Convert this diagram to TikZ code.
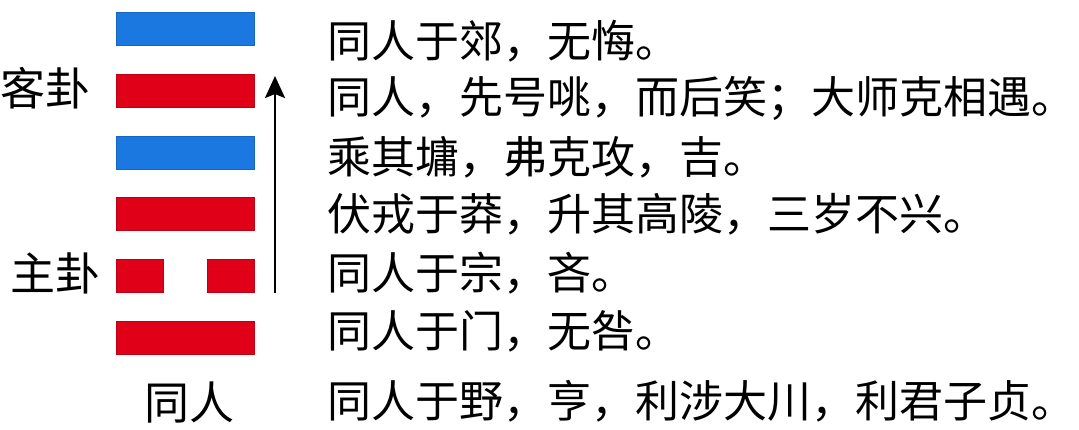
\documentclass[tikz,border=0pt]{standalone}
\usepackage{fontspec}
\setmainfont{Noto Sans CJK SC}
\usetikzlibrary{arrows.meta}
\definecolor{yaored}{HTML}{E00018}
\definecolor{yaoblue}{HTML}{1A78E0}

\begin{document}
\begin{tikzpicture}[x=1pt,y=-1pt,
    yao/.style={rectangle, inner sep=0pt, minimum height=33pt, fill=#1, draw=#1!85!black, line width=0.4pt},
    line/.style={anchor=west, inner sep=0pt, font=\fontsize{44}{44}\selectfont},
    tag/.style={inner sep=0pt, font=\fontsize{45}{45}\selectfont}]
    \useasboundingbox (0,0) rectangle (1079,430);

    % Define nodes
    \node[yao=yaoblue, minimum width=138pt] (Y6) at (185,29) {};
    \node[yao=yaored, minimum width=138pt] (Y5) at (185,90.7) {};
    \node[yao=yaoblue, minimum width=138pt] (Y4) at (185,152.4) {};
    \node[yao=yaored, minimum width=138pt] (Y3) at (185,214.1) {};
    \node[yao=yaored, minimum width=47pt] (Y2a) at (139.5,275.8) {};
    \node[yao=yaored, minimum width=47pt] (Y2b) at (230.5,275.8) {};
    \node[yao=yaored, minimum width=138pt] (Y1) at (185,337.5) {};

    \node[tag] (K) at (46,88) {客卦};
    \node[tag] (Z) at (55,273) {主卦};
    \node[tag] (N) at (189,403) {同人};

    \node[line] (L6) at (327,41) {同人于郊，无悔。};
    \node[line] (L5) at (327,98) {同人，先号咷，而后笑；大师克相遇。};
    \node[line] (L4) at (327,157) {乘其墉，弗克攻，吉。};
    \node[line] (L3) at (327,214) {伏戎于莽，升其高陵，三岁不兴。};
    \node[line] (L2) at (327,273) {同人于宗，吝。};
    \node[line] (L1) at (327,331) {同人于门，无咎。};
    \node[line] (L0) at (327,401) {同人于野，亨，利涉大川，利君子贞。};

    \coordinate (A0) at (275,293);
    \coordinate (A1) at (275,76);

    % Draw arrows
    \draw[-{Stealth[length=22pt,width=20pt,inset=4pt]}, line width=2.5pt] (A0) -- (A1); % from the inner trigram up to the outer one
\end{tikzpicture}
\end{document}
